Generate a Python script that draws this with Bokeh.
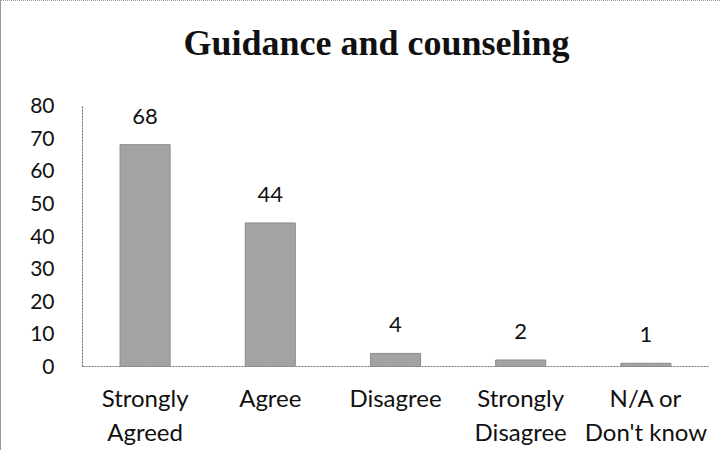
from bokeh.plotting import figure
from bokeh.models import ColumnDataSource, LabelSet, Title, Range1d, FixedTicker
from bokeh.core.properties import value
from bokeh.embed import file_html
from bokeh.resources import INLINE

title_text = "Guidance and counseling"
categories = ["Strongly\nAgreed", "Agree", "Disagree", "Strongly\nDisagree", "N/A or\nDon't know"]
values = [68, 44, 4, 2, 1]
y_ticks = [0, 10, 20, 30, 40, 50, 60, 70, 80]

source = ColumnDataSource(data=dict(cat=categories, val=values, lab=[str(v) for v in values]))

p = figure(x_range=categories, y_range=Range1d(0, 80), width=720, height=450,
           output_backend="svg", toolbar_location=None,
           min_border_left=81, min_border_right=13, min_border_top=104, min_border_bottom=85)

p.vbar(x="cat", top="val", width=0.4, source=source,
       fill_color="#a3a3a3", line_color="#8c8c8c", line_width=1)

labels = LabelSet(x="cat", y="val", text="lab", source=source,
                  text_align="center", text_baseline="alphabetic", y_offset=21,
                  text_font=value("Lato"), text_font_size=value("22px"), text_color="#111111")
p.add_layout(labels)

# spacer between the frame and the title (first added sits nearest the frame)
spacer = Title(text=" ", text_font_size="2px", standoff=37)
p.add_layout(spacer, "above")

main_title = Title(text=title_text, text_font="Liberation Serif", text_font_style="bold",
                   text_font_size="36px", text_color="#111111",
                   align="left", offset=101, standoff=4)
p.add_layout(main_title, "above")

p.xgrid.grid_line_color = None
p.ygrid.grid_line_color = None
p.outline_line_color = None

p.yaxis.ticker = FixedTicker(ticks=y_ticks)
p.yaxis.major_tick_line_color = None
p.yaxis.minor_tick_line_color = None
p.yaxis.major_tick_out = 0
p.yaxis.major_tick_in = 0
p.yaxis.axis_line_color = "#666666"
p.yaxis.axis_line_dash = "2 1"
p.yaxis.major_label_standoff = 28
p.yaxis.major_label_text_font = "Lato"
p.yaxis.major_label_text_font_size = "21px"
p.yaxis.major_label_text_color = "#111111"

p.xaxis.major_tick_line_color = None
p.xaxis.minor_tick_line_color = None
p.xaxis.major_tick_out = 0
p.xaxis.major_tick_in = 0
p.xaxis.axis_line_color = "#777777"
p.xaxis.axis_line_dash = "2 1"
p.xaxis.major_label_standoff = 16
p.xaxis.major_label_text_font = "Lato"
p.xaxis.major_label_text_font_size = "24px"
p.xaxis.major_label_text_color = "#111111"

p.styles = {"border-left": "1px solid #999999", "border-top": "1px dotted #999999"}

open("out.html", "w").write(file_html(p, INLINE))
